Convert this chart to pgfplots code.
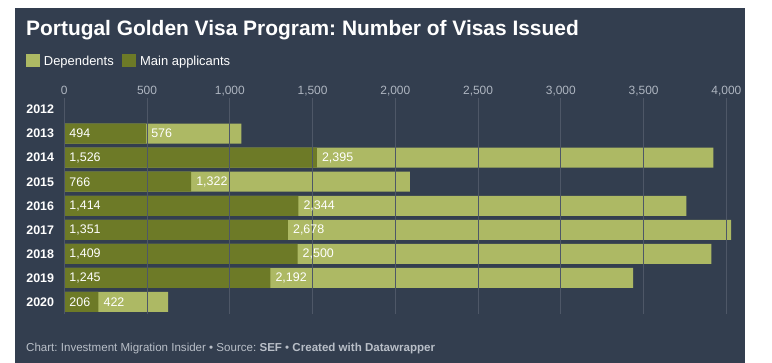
\documentclass[border=0pt]{standalone}
\usepackage{pgfplots}
\pgfplotsset{compat=1.18}
\usepackage{pgfplotstable}
\usepackage{fontspec}
\setmainfont{Liberation Sans}
\frenchspacing
\definecolor{bg}{HTML}{333E4F}
\definecolor{mainc}{HTML}{6D7A27}
\definecolor{depc}{HTML}{ADB964}
\definecolor{gridc}{HTML}{4E5767}
\definecolor{tickc}{HTML}{AEB5C0}
\definecolor{footc}{HTML}{B9BFC8}

\pgfplotstableread{
idx main dep
1 494 576
2 1526 2395
3 766 1322
4 1414 2344
5 1351 2678
6 1409 2500
7 1245 2192
8 206 422
}\visas

\begin{document}
\begin{tikzpicture}
\useasboundingbox (0bp,0bp) rectangle (772bp,-363bp);
\fill[white] (0bp,0bp) rectangle (772bp,-363bp);
\fill[bg] (15bp,-8bp) rectangle (745bp,-363bp);
\node[anchor=base west, text=white, font=\bfseries\fontsize{21}{25}\selectfont, inner sep=0] at (26bp,-35bp) {Portugal Golden Visa Program: Number of Visas Issued};
% legend
\fill[depc] (26bp,-54.3bp) rectangle (40bp,-67.3bp);
\node[anchor=base west, text=white, font=\fontsize{13}{15}\selectfont, inner sep=0] at (43.7bp,-65.3bp) {Dependents};
\fill[mainc] (122.3bp,-54.3bp) rectangle (136bp,-67.3bp);
\node[anchor=base west, text=white, font=\fontsize{13}{15}\selectfont, inner sep=0] at (140bp,-65.3bp) {Main applicants};
% footer
\node[anchor=base west, text=footc, font=\fontsize{11.6}{14}\selectfont, inner sep=0] at (26bp,-351bp) {Chart: Investment Migration Insider \textbullet{} Source: \textbf{SEF} \textbullet{} \textbf{Created with Datawrapper}};
\begin{axis}[
  at={(64.3bp,-97.6bp)}, anchor=north west,
  scale only axis, width=678.6bp, height=216.3bp,
  xbar, bar width=20bp, bar shift=0pt,
  xmin=0, xmax=4100, ymin=-0.5, ymax=8.5, y dir=reverse,
  axis line style={draw=none},
  major tick length=0pt,
  xtick={0,500,1000,1500,2000,2500,3000,3500,4000},
  xticklabels={0,500,{1,000},{1,500},{2,000},{2,500},{3,000},{3,500},{4,000}},
  xticklabel pos=upper,
  ytick={0,1,2,3,4,5,6,7,8},
  yticklabels={2012,2013,2014,2015,2016,2017,2018,2019,2020},
  xmajorgrids, grid style={gridc, line width=1bp},
  axis on top,
  xticklabel style={anchor=base, inner sep=0pt, yshift=3bp, text=tickc, font=\fontsize{12}{14}\selectfont},
  yticklabel style={anchor=east, inner sep=0pt, xshift=-10bp, text=white, font=\bfseries\fontsize{12.5}{14}\selectfont},
  every node near coord/.style={anchor=west, inner sep=0pt, xshift=5bp, text=white, font=\fontsize{12.5}{14}\selectfont},
  /pgf/number format/.cd, fixed, precision=0, 1000 sep={,}, assume math mode=true,
]
\addplot[fill=depc, draw=none] table[x expr=\thisrow{main}+\thisrow{dep}, y=idx]{\visas};
\addplot[fill=mainc, draw=none] table[x=main, y=idx]{\visas};
\addplot[draw=none, fill=none, nodes near coords, point meta=explicit] table[x expr=0, y=idx, meta=main]{\visas};
\addplot[draw=none, fill=none, nodes near coords, point meta=explicit] table[x=main, y=idx, meta=dep]{\visas};
\end{axis}
\end{tikzpicture}
\end{document}
